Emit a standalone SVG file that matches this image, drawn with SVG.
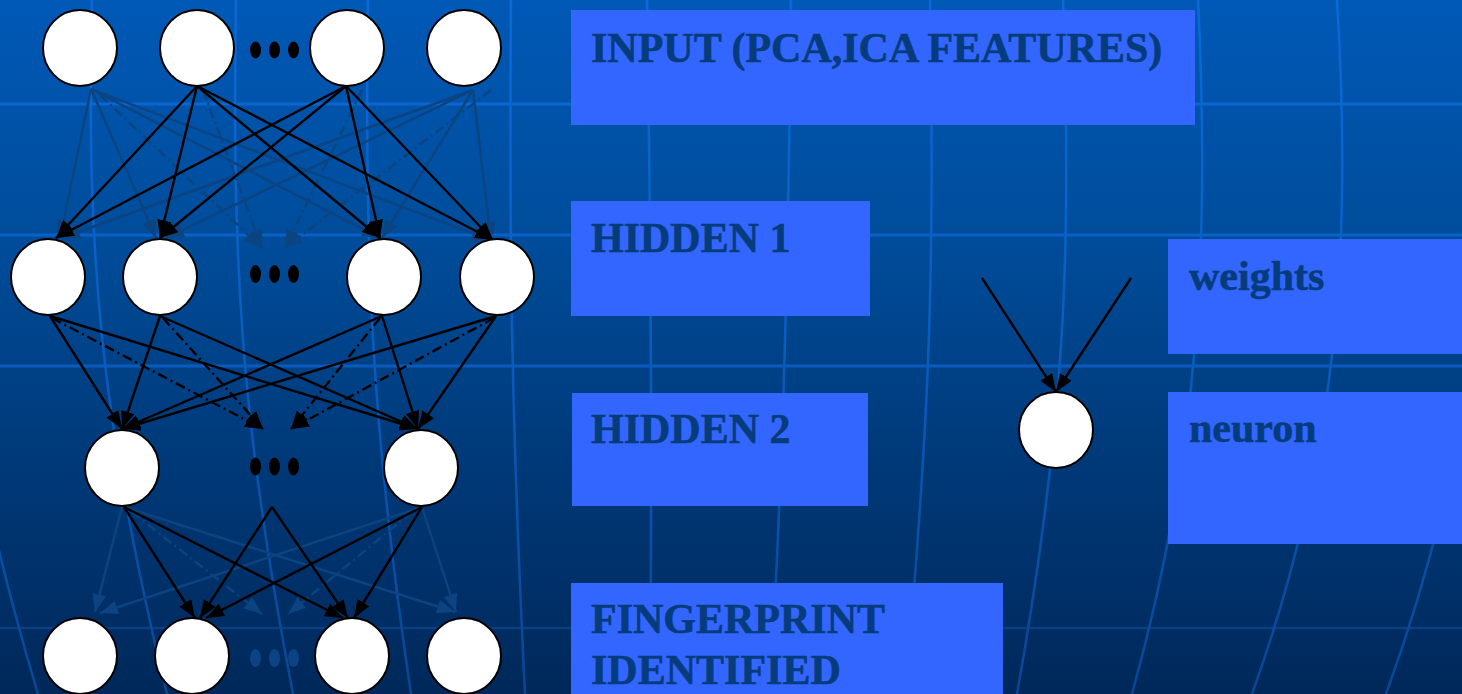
<svg xmlns="http://www.w3.org/2000/svg" width="1462" height="694" viewBox="0 0 1462 694">
  <defs>
    <linearGradient id="bg" x1="0" y1="0" x2="0" y2="694" gradientUnits="userSpaceOnUse">
      <stop offset="0" stop-color="#0059b6"/>
      <stop offset="0.35" stop-color="#004c9a"/>
      <stop offset="0.65" stop-color="#003a7a"/>
      <stop offset="1" stop-color="#00285a"/>
    </linearGradient>
    <linearGradient id="grid" x1="0" y1="0" x2="0" y2="694" gradientUnits="userSpaceOnUse">
      <stop offset="0" stop-color="#0a6ad8"/>
      <stop offset="0.5" stop-color="#0a5cbf"/>
      <stop offset="1" stop-color="#0a4694"/>
    </linearGradient>
    <marker id="ah" viewBox="0 0 18 14" refX="18" refY="7" markerWidth="18" markerHeight="14" markerUnits="userSpaceOnUse" orient="auto">
      <path d="M0,0 L18,7 L0,14 z" fill="#000"/>
    </marker>
    <marker id="ahf" viewBox="0 0 18 14" refX="18" refY="7" markerWidth="18" markerHeight="14" markerUnits="userSpaceOnUse" orient="auto">
      <path d="M0,0 L18,7 L0,14 z" fill="#0b4480"/>
    </marker>
    <style>
      .hl { stroke: url(#grid); stroke-width: 3; fill: none; }
      .vl { stroke: url(#grid); stroke-width: 2.5; fill: none; }
      .box { fill: #3366ff; }
      .lbl { font-family: "Liberation Serif", "Times New Roman", serif; font-weight: bold; font-size: 42px; fill: #063c7c; stroke: #063c7c; stroke-width: 0.6; }
      .node { fill: #fff; stroke: #000; stroke-width: 2; }
      .dot { fill: #000; }
      .fdot { fill: #0b4385; }
      .b { stroke: #000; stroke-width: 2.4; fill: none; marker-end: url(#ah); }
      .bd { stroke: #000; stroke-width: 2.4; fill: none; stroke-dasharray: 10 4 2 4; marker-end: url(#ah); }
      .f { stroke: #0b4480; stroke-width: 2.4; fill: none; marker-end: url(#ahf); }
      .fd { stroke: #0b4480; stroke-width: 2.4; fill: none; stroke-dasharray: 10 4 2 4; marker-end: url(#ahf); }
    </style>
  </defs>

  <!-- background -->
  <rect x="0" y="0" width="1462" height="694" fill="url(#bg)"/>
  <g id="background-grid">
    <line class="hl" x1="0" y1="104" x2="1462" y2="104"/>
    <line class="hl" x1="0" y1="235" x2="1462" y2="235"/>
    <line class="hl" x1="0" y1="366" x2="1462" y2="366"/>
    <line x1="0" y1="628" x2="1462" y2="628" stroke="#0a3f82" stroke-width="2.5"/>
    <path class="vl" d="M-25,440 C-10,520 10,600 38,694"/>
    <path class="vl" d="M92,0 C86,250 100,420 167,694"/>
    <path class="vl" d="M236,0 C232,260 240,420 293,694"/>
    <path class="vl" d="M368,0 C364,260 372,430 411,694"/>
    <path class="vl" d="M511,0 C509,260 512,430 525,694"/>
    <path class="vl" d="M647,0 C652,300 652,500 650,694"/>
    <path class="vl" d="M791,0 C788,300 782,480 770,694"/>
    <path class="vl" d="M930,0 C935,260 930,420 905,694"/>
    <path class="vl" d="M1063,0 C1072,240 1066,420 1017,694"/>
    <path class="vl" d="M1198,0 C1210,240 1200,450 1132,694"/>
    <path class="vl" d="M1337,0 C1352,240 1340,450 1252,694"/>
    <path class="vl" d="M1480,0 C1495,240 1475,450 1386,694"/>
  </g>

  <!-- label boxes -->
  <g id="label-input">
    <rect class="box" x="571" y="10" width="624" height="115"/>
    <text class="lbl" x="591" y="62">INPUT (PCA,ICA FEATURES)</text>
  </g>
  <g id="label-hidden1">
    <rect class="box" x="571" y="201" width="299" height="115"/>
    <text class="lbl" x="591" y="252">HIDDEN 1</text>
  </g>
  <g id="label-hidden2">
    <rect class="box" x="572" y="393" width="296" height="113"/>
    <text class="lbl" x="591" y="443">HIDDEN 2</text>
  </g>
  <g id="label-output">
    <rect class="box" x="571" y="583" width="432" height="120"/>
    <text class="lbl" x="591" y="633">FINGERPRINT</text>
    <text class="lbl" x="591" y="684">IDENTIFIED</text>
  </g>
  <g id="label-weights">
    <rect class="box" x="1168" y="239" width="300" height="115"/>
    <text class="lbl" x="1189" y="290">weights</text>
  </g>
  <g id="label-neuron">
    <rect class="box" x="1168" y="392" width="300" height="152"/>
    <text class="lbl" x="1189" y="442">neuron</text>
  </g>

  <!-- connectors -->
  <g id="connectors">
    <!-- input -> hidden 1 : faint -->
    <line class="f" x1="91" y1="89" x2="60" y2="238"/>
    <line class="f" x1="91" y1="89" x2="156" y2="238"/>
    <line class="f" x1="91" y1="89" x2="380" y2="238"/>
    <line class="f" x1="91" y1="89" x2="490" y2="240"/>
    <line class="fd" x1="100" y1="95" x2="262" y2="248"/>
    <line class="fd" x1="203" y1="90" x2="262" y2="248"/>
    <line class="f" x1="473" y1="90" x2="62" y2="238"/>
    <line class="f" x1="473" y1="90" x2="166" y2="238"/>
    <line class="f" x1="473" y1="90" x2="382" y2="238"/>
    <line class="f" x1="473" y1="90" x2="491" y2="240"/>
    <line class="fd" x1="362" y1="90" x2="285" y2="248"/>
    <line class="fd" x1="491" y1="90" x2="285" y2="248"/>
    <!-- input -> hidden 1 : black -->
    <line class="b" x1="197" y1="86" x2="56" y2="238"/>
    <line class="b" x1="197" y1="86" x2="160" y2="238"/>
    <line class="b" x1="197" y1="86" x2="380" y2="238"/>
    <line class="b" x1="197" y1="86" x2="493" y2="240"/>
    <line class="b" x1="346" y1="86" x2="56" y2="238"/>
    <line class="b" x1="346" y1="86" x2="160" y2="238"/>
    <line class="b" x1="346" y1="86" x2="380" y2="238"/>
    <line class="b" x1="346" y1="86" x2="493" y2="240"/>

    <!-- hidden 1 -> hidden 2 -->
    <line class="b" x1="50" y1="316" x2="122" y2="429"/>
    <line class="b" x1="50" y1="316" x2="418" y2="429"/>
    <line class="bd" x1="52" y1="318" x2="263" y2="429"/>
    <line class="b" x1="160" y1="316" x2="122" y2="429"/>
    <line class="b" x1="160" y1="316" x2="418" y2="429"/>
    <line class="bd" x1="163" y1="318" x2="263" y2="429"/>
    <line class="b" x1="382" y1="316" x2="122" y2="429"/>
    <line class="b" x1="382" y1="316" x2="418" y2="429"/>
    <line class="bd" x1="380" y1="318" x2="291" y2="429"/>
    <line class="b" x1="496" y1="316" x2="122" y2="429"/>
    <line class="b" x1="496" y1="316" x2="418" y2="429"/>
    <line class="bd" x1="494" y1="318" x2="291" y2="429"/>

    <!-- hidden 2 -> output : faint -->
    <line class="f" x1="122" y1="507" x2="95" y2="612"/>
    <line class="f" x1="422" y1="507" x2="100" y2="613"/>
    <line class="f" x1="124" y1="507" x2="455" y2="612"/>
    <line class="f" x1="422" y1="507" x2="456" y2="612"/>
    <line class="fd" x1="132" y1="512" x2="262" y2="614"/>
    <line class="fd" x1="412" y1="512" x2="288" y2="614"/>
    <!-- hidden 2 -> output : black -->
    <line class="b" x1="124" y1="507" x2="195" y2="618"/>
    <line class="b" x1="124" y1="507" x2="343" y2="618"/>
    <line class="b" x1="422" y1="507" x2="206" y2="618"/>
    <line class="b" x1="422" y1="507" x2="354" y2="618"/>
    <line class="b" x1="272" y1="507" x2="200" y2="618"/>
    <line class="b" x1="272" y1="507" x2="348" y2="618"/>

    <!-- single neuron legend -->
    <line class="b" x1="982" y1="278" x2="1056" y2="392"/>
    <line class="b" x1="1131" y1="278" x2="1056" y2="392"/>
  </g>

  <!-- input layer -->
  <g id="input-1"><ellipse class="node" cx="80" cy="48" rx="37" ry="38"/></g>
  <g id="input-2"><ellipse class="node" cx="197" cy="48" rx="37" ry="38"/></g>
  <g id="input-3"><ellipse class="node" cx="347" cy="48" rx="37" ry="38"/></g>
  <g id="input-4"><ellipse class="node" cx="464" cy="48" rx="37" ry="38"/></g>
  <g id="input-ellipsis">
    <ellipse class="dot" cx="255.5" cy="50" rx="5.5" ry="8.5"/>
    <ellipse class="dot" cx="274.5" cy="50" rx="5.5" ry="8.5"/>
    <ellipse class="dot" cx="293.5" cy="50" rx="5.5" ry="8.5"/>
  </g>

  <!-- hidden 1 -->
  <g id="hidden1-1"><ellipse class="node" cx="48" cy="277" rx="37" ry="38"/></g>
  <g id="hidden1-2"><ellipse class="node" cx="160" cy="277" rx="37" ry="38"/></g>
  <g id="hidden1-3"><ellipse class="node" cx="384" cy="277" rx="37" ry="38"/></g>
  <g id="hidden1-4"><ellipse class="node" cx="497" cy="277" rx="37" ry="38"/></g>
  <g id="hidden1-ellipsis">
    <ellipse class="dot" cx="255.5" cy="274" rx="5.5" ry="9"/>
    <ellipse class="dot" cx="274.5" cy="274" rx="5.5" ry="9"/>
    <ellipse class="dot" cx="293.5" cy="274" rx="5.5" ry="9"/>
  </g>

  <!-- hidden 2 -->
  <g id="hidden2-1"><ellipse class="node" cx="122" cy="468" rx="37" ry="38"/></g>
  <g id="hidden2-2"><ellipse class="node" cx="421" cy="468" rx="37" ry="38"/></g>
  <g id="hidden2-ellipsis">
    <ellipse class="dot" cx="255.5" cy="466.5" rx="5.5" ry="9"/>
    <ellipse class="dot" cx="274.5" cy="466.5" rx="5.5" ry="9"/>
    <ellipse class="dot" cx="293.5" cy="466.5" rx="5.5" ry="9"/>
  </g>

  <!-- output -->
  <g id="output-1"><ellipse class="node" cx="80" cy="656" rx="37" ry="38"/></g>
  <g id="output-2"><ellipse class="node" cx="192" cy="656" rx="37" ry="38"/></g>
  <g id="output-3"><ellipse class="node" cx="352" cy="656" rx="37" ry="38"/></g>
  <g id="output-4"><ellipse class="node" cx="464" cy="656" rx="37" ry="38"/></g>
  <g id="output-ellipsis">
    <ellipse class="fdot" cx="255.5" cy="658" rx="5.5" ry="9"/>
    <ellipse class="fdot" cx="274.5" cy="658" rx="5.5" ry="9"/>
    <ellipse class="fdot" cx="293.5" cy="658" rx="5.5" ry="9"/>
  </g>

  <!-- legend neuron -->
  <g id="neuron"><ellipse class="node" cx="1056" cy="430" rx="37" ry="38"/></g>
</svg>
